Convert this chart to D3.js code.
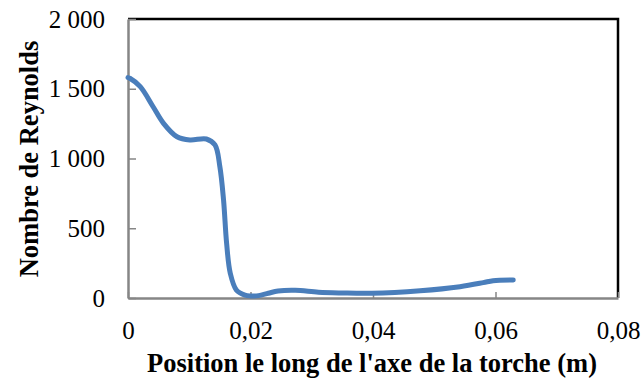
<!DOCTYPE html>
<html><head><meta charset="utf-8">
<script src="https://cdn.jsdelivr.net/npm/d3@7/dist/d3.min.js"></script>
<style>body{margin:0;background:#fff}svg{display:block}</style>
</head><body>
<script>
const positions = [0.0000,0.0003,0.0020,0.0041,0.0058,0.0080,0.0101,0.0128,0.0142,0.0150,0.0156,0.0161,0.0167,0.0177,0.0191,0.0200,0.0213,0.0229,0.0245,0.0273,0.0311,0.0349,0.0398,0.0477,0.0542,0.0580,0.0596,0.0629];
const reynolds  = [1580,1575,1515,1371,1252,1156,1133,1140,1097,941,703,392,177,57,21,15,17,34,50,55,41,36,34,52,81,110,124,129];
const xTicks = [0,0.02,0.04,0.06,0.08];
const xTickLabels = ["0","0,02","0,04","0,06","0,08"];
const yTicks = [0,500,1000,1500,2000];
const yTickLabels = ["0","500","1 000","1 500","2 000"];
const xTitle = "Position le long de l'axe de la torche (m)";
const yTitle = "Nombre de Reynolds";

const W = 641, H = 381;
const m = {left:128, top:19, right:618, bottom:298};
const svg = d3.select("body").append("svg").attr("width",W).attr("height",H);
const x = d3.scaleLinear().domain([0,0.08]).range([m.left,m.right]);
const y = d3.scaleLinear().domain([0,2000]).range([m.bottom,m.top]);
const font = "Liberation Serif";

svg.append("path").attr("d",`M${m.left},${m.top}H${m.right}V${m.bottom}`)
  .attr("fill","none").attr("stroke","#000").attr("stroke-width",2.5);

const xAxis = d3.axisBottom(x).tickValues(xTicks).tickSizeInner(-6).tickSizeOuter(0)
  .tickFormat((d,i)=>xTickLabels[i]).tickPadding(23);
const gx = svg.append("g").attr("transform",`translate(0,${m.bottom})`).call(xAxis);
const yAxis = d3.axisLeft(y).tickValues(yTicks).tickSizeInner(-8).tickSizeOuter(0)
  .tickFormat((d,i)=>yTickLabels[i]).tickPadding(23);
const gy = svg.append("g").attr("transform",`translate(${m.left},0)`).call(yAxis);
[gx,gy].forEach(g=>{
  g.attr("font-family",font).attr("font-size",25);
  g.select(".domain").attr("stroke","#868686").attr("stroke-width",2.5);
  g.selectAll(".tick line").attr("stroke","#868686").attr("stroke-width",1.5);
  g.selectAll(".tick text").attr("font-family",font).attr("font-size",25).attr("fill","#000");
});
gx.selectAll(".tick text").attr("dy","0.71em");

svg.append("path").datum(positions.map((p,i)=>[p,reynolds[i]]))
  .attr("d",d3.line().x(d=>x(d[0])).y(d=>y(d[1])).curve(d3.curveCatmullRom.alpha(0.5)))
  .attr("fill","none").attr("stroke","#4A7EBB").attr("stroke-width",5)
  .attr("stroke-linecap","round").attr("stroke-linejoin","round");

svg.append("text").attr("x",372).attr("y",372)
  .attr("text-anchor","middle").attr("font-family",font).attr("font-weight","bold")
  .attr("font-size",26.5).text(xTitle);
svg.append("text").attr("transform",`translate(38,159) rotate(-90)`)
  .attr("text-anchor","middle").attr("font-family",font).attr("font-weight","bold")
  .attr("font-size",26.5).text(yTitle);
</script>
</body></html>
